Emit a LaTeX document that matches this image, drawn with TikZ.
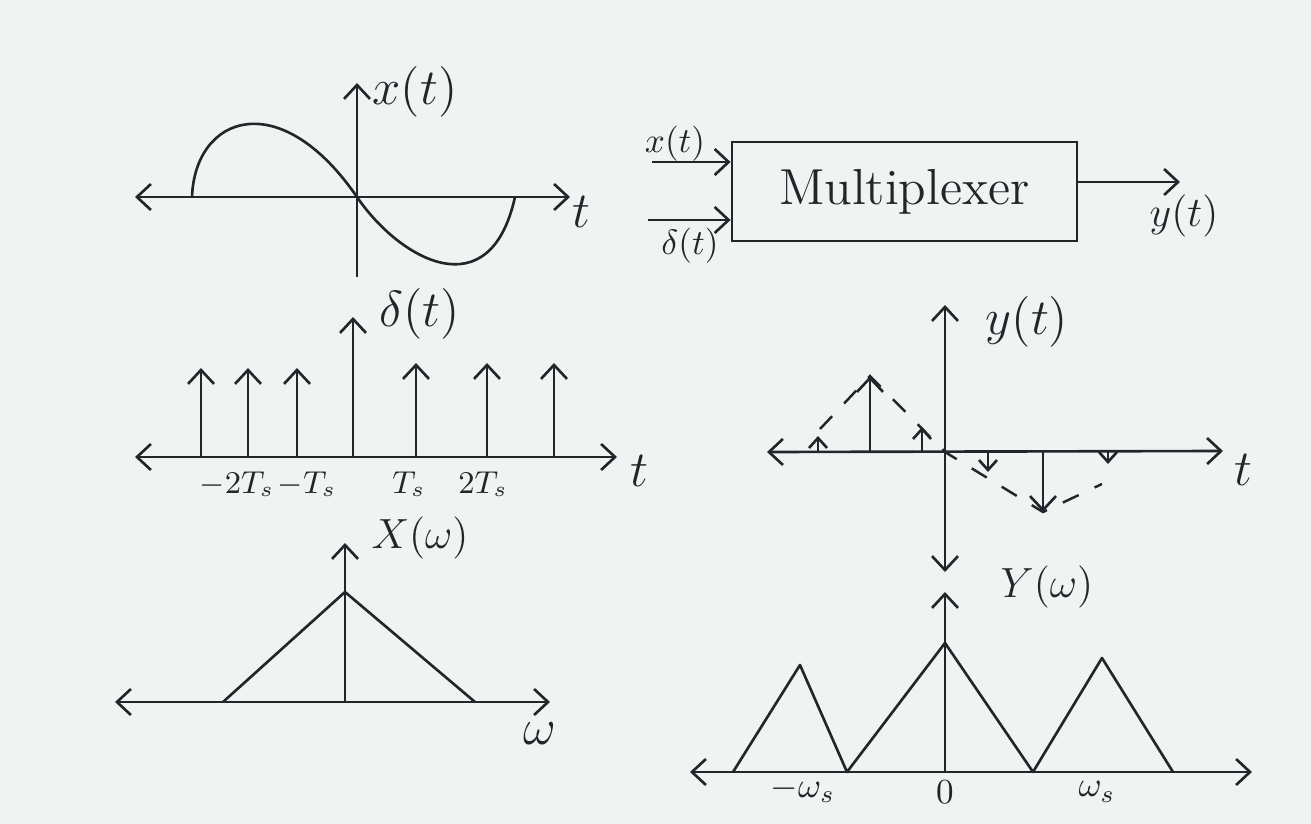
\documentclass[tikz,border=0pt]{standalone}
\usepackage{tikz}
\usetikzlibrary{arrows.meta,positioning,calc}
\definecolor{Ink}{HTML}{23252B}
\definecolor{Paper}{HTML}{F1F2F2}

\begin{document}
\begin{tikzpicture}[x=0.01cm,y=-0.01cm,
    ink/.style={draw=Ink,line width=0.75pt},
    ax/.style={ink,{Straight Barb[length=1.4mm,width=2.6mm]}-{Straight Barb[length=1.4mm,width=2.6mm]}},
    up/.style={ink,-{Straight Barb[length=1.4mm,width=2.6mm]}},
    sm/.style={ink,-{Straight Barb[length=1mm,width=1.8mm]}},
    env/.style={draw=Ink,line width=0.7pt,dash pattern=on 5pt off 5pt},
    l/.style={text=Ink,font=\Large,inner sep=1pt},
    bx/.style={ink,minimum width=3.45cm,minimum height=0.99cm,font=\Large,text=Ink}]
    \fill[Paper] (0,0) rectangle (1311,824);
    \useasboundingbox (0,0) rectangle (1311,824);
    % x(t)
    \draw[ax] (135,197) -- (570,197);
    \draw[up] (357,277) -- (357,83);
    \draw[ink] (192,197) .. controls (195,115) and (280,85) .. (357,197) .. controls (400,260) and (490,310) .. (515,197);
    \node[l] (lx) at (415,92) {$x(t)$};
    \node[l] (lt1) at (581,212) {$t$};
    % multiplexer block
    \node[bx,draw] (mux) at (904.5,191.5) {Multiplexer};
    \coordinate (xin) at (652,162);
    \coordinate (din) at (648,220);
    \coordinate (yout) at (1180,182);
    \draw[up] (xin) -- (xin -| mux.west);
    \draw[up] (din) -- (din -| mux.west);
    \draw[up] (yout -| mux.east) -- (yout);
    \node[l,font=\normalsize] (lxin) at (675,144) {$x(t)$};
    \node[l,font=\normalsize] (ldin) at (690,246) {$\delta(t)$};
    \node[l,font=\large] (lyout) at (1184,216) {$y(t)$};
    % delta(t)
    \draw[ax] (135,457) -- (617,457);
    \foreach \p in {201,248,297} \draw[up] (\p,457) -- (\p,368);
    \foreach \p in {416,487,554} \draw[up] (\p,457) -- (\p,363);
    \draw[up] (353,457) -- (353,317);
    \node[l] (ld) at (420,314) {$\delta(t)$};
    \node[l,font=\small] (lm2) at (237,484) {$-2T_s$};
    \node[l,font=\small] (lm1) at (307,484) {$-T_s$};
    \node[l,font=\small] (lp1) at (409,484) {$T_s$};
    \node[l,font=\small] (lp2) at (483,484) {$2T_s$};
    \node[l] (lt2) at (639,471) {$t$};
    % y(t)
    \draw[ax] (767,452) -- (1223,451);
    \draw[ax] (945,572) -- (945,305);
    \draw[sm] (818,452) -- (818,436);
    \draw[up] (870,452) -- (870,376);
    \draw[sm] (922,452) -- (922,427);
    \draw[sm] (988,452) -- (988,472);
    \draw[up] (1043,452) -- (1043,512);
    \draw[sm] (1108,452) -- (1108,464);
    \draw[env] (820,429) -- (870,376) -- (945,452) -- (1043,512) -- (1102,484);
    \node[l] (ly) at (1027,322) {$y(t)$};
    \node[l] (lt3) at (1243,470) {$t$};
    % X(w)
    \draw[ax] (115,702) -- (550,702);
    \draw[up] (345,702) -- (345,543);
    \draw[ink] (223,702) -- (345,592) -- (475,702);
    \node[l,font=\large] (lX) at (420,538) {$X(\omega)$};
    \node[l] (lw) at (540,734) {$\omega$};
    % Y(w)
    \draw[ax] (690,772) -- (1252,772);
    \draw[up] (945,772) -- (945,592);
    \draw[ink,line join=round] (733,772) -- (800,665) -- (847,772) -- (945,643) -- (1033,772) -- (1102,658) -- (1173,772);
    \node[l,font=\large] (lY) at (1047,587) {$Y(\omega)$};
    \node[l,font=\normalsize] (lmws) at (803,790) {$-\omega_s$};
    \node[l,font=\normalsize] (l0) at (945,792) {$0$};
    \node[l,font=\normalsize] (lws) at (1097,792) {$\omega_s$};
\end{tikzpicture}
\end{document}
